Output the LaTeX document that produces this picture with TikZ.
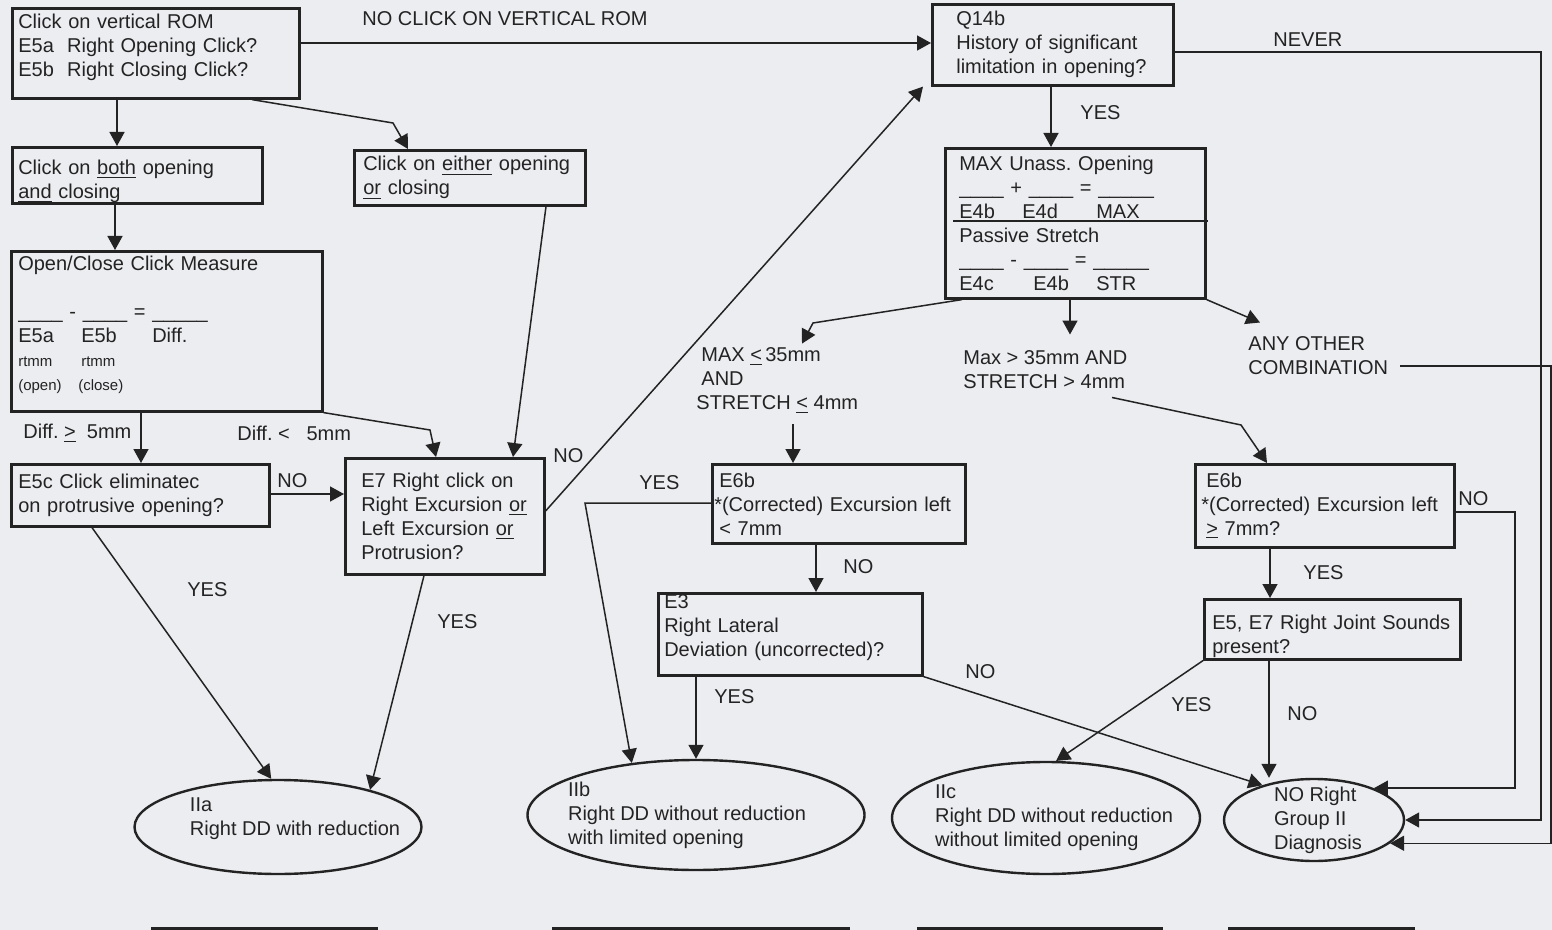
\documentclass[tikz,border=0pt]{standalone}
\usepackage{fontspec}
\setmainfont{Liberation Sans}
\usetikzlibrary{arrows.meta,shapes.geometric}
\definecolor{paper}{RGB}{236,237,241}
\definecolor{ink}{RGB}{35,35,35}

\begin{document}
\begin{tikzpicture}[
    x=0.5pt, y=-0.5pt,
    font=\fontsize{10}{12}\selectfont\frenchspacing,
    >={Triangle[length=7pt,width=7.5pt]},
    box/.style={draw=ink, line width=1.3pt, anchor=north west, align=left,
        inner ysep=0pt, text=ink},
    oval/.style={ellipse, draw=ink, line width=1.2pt, align=left,
        inner sep=-12pt, text=ink},
    lbl/.style={anchor=west, align=left, inner sep=0pt, text=ink},
    arr/.style={->, draw=ink, line width=0.75pt},
    bar/.style={draw=ink, line width=1.5pt},
]
\useasboundingbox (0,0) rectangle (1552,930);
\fill[paper] (0,0) rectangle (1552,930);

% Click branch (left)
\node[box, text width=137.5pt, inner xsep=3pt, minimum height=45pt, text depth=32pt] (top) at (11,7)
    {Click on vertical ROM\\E5a\ \ Right Opening Click?\\E5b\ \ Right Closing Click?};
\node[box, text width=119pt, inner xsep=3pt, minimum height=28pt, text height=13pt] (both) at (11,146)
    {Click on \underline{both} opening\\\underline{and} closing};
\node[box, text width=106.5pt, inner xsep=4.5pt, minimum height=27.5pt] (either) at (353,149)
    {Click on \underline{either} opening\\\underline{or} closing};
\node[box, text width=148.5pt, inner xsep=3.5pt, minimum height=80pt, text depth=68pt] (meas) at (10,250)
    {Open/Close Click Measure\\[12pt]
     \_\_\_\_ - \_\_\_\_ = \_\_\_\_\_\\
     \makebox[31.5pt][l]{E5a}\makebox[35.5pt][l]{E5b}Diff.\\
     {\fontsize{7.5}{12}\selectfont\makebox[31.5pt][l]{rtmm}rtmm}\\
     {\fontsize{7.5}{12}\selectfont\makebox[30pt][l]{(open)}(close)}};
\node[box, text width=122pt, inner xsep=3.5pt, minimum height=31pt] (e5c) at (10,463)
    {E5c Click eliminatec\\on protrusive opening?};
\node[box, text width=83.5pt, inner xsep=8pt, minimum height=58pt] (e7) at (344,457)
    {E7 Right click on\\Right Excursion \underline{or}\\Left Excursion \underline{or}\\Protrusion?};

% History / opening branch (right)
\node[box, text width=96.5pt, inner xsep=12pt, minimum height=40.5pt] (q14b) at (931,3)
    {Q14b\\History of significant\\limitation in opening?};
\node[box, text width=116pt, inner xsep=7pt, minimum height=75pt] (maxbox) at (944,147)
    {MAX Unass. Opening\\
     \_\_\_\_ + \_\_\_\_ = \_\_\_\_\_\\
     \makebox[31.5pt][l]{E4b}\makebox[37pt][l]{E4d}MAX\\
     Passive Stretch\\
     \_\_\_\_ - \_\_\_\_ = \_\_\_\_\_\\
     \makebox[37pt][l]{E4c}\makebox[31.5pt][l]{E4b}STR};
\draw[ink, line width=0.9pt] ([shift={(9,74)}]maxbox.north west) -- ([shift={(264,74)}]maxbox.north west);
\node[box, text width=124.5pt, inner xsep=1pt, minimum height=39.5pt] (e6bl) at (711,463)
    {\hspace*{2.5pt}E6b\\{*}(Corrected) Excursion left\\\hspace*{2.5pt}< 7mm};
\node[box, text width=126pt, inner xsep=3pt, minimum height=41pt, text depth=33pt] (e3) at (657,592)
    {E3\\Right Lateral\\Deviation (uncorrected)?};
\node[box, text width=123.5pt, inner xsep=3pt, minimum height=41.5pt] (e6br) at (1194,463)
    {\hspace*{2.5pt}E6b\\{*}(Corrected) Excursion left\\\hspace*{2.5pt}\underline{>} 7mm?};
\node[box, text width=120pt, inner xsep=4pt, minimum height=30pt, text height=14.3pt] (sounds) at (1203,598)
    {E5, E7 Right Joint Sounds\\present?};

% Diagnoses
\node[oval, minimum width=143.5pt, minimum height=47pt, text depth=10pt] (IIa) at (278,827)
    {\hspace*{17pt}IIa\\\hspace*{17pt}Right DD with reduction};
\node[oval, minimum width=168.5pt, minimum height=55pt] (IIb) at (696,815)
    {\hspace*{-9pt}IIb\\\hspace*{-9pt}Right DD without reduction\\\hspace*{-9pt}with limited opening};
\node[oval, minimum width=154pt, minimum height=56pt] (IIc) at (1046,818)
    {\hspace*{8pt}IIc\\\hspace*{8pt}Right DD without reduction\\\hspace*{8pt}without limited opening};
\node[oval, minimum width=90pt, minimum height=41pt] (nodx) at (1314,820)
    {\hspace*{4pt}NO Right\\\hspace*{4pt}Group II\\\hspace*{4pt}Diagnosis};

% Conditions and answers
\node[lbl] (nocl) at (362,19) {NO CLICK ON VERTICAL ROM};
\node[lbl] (never) at (1273,40) {NEVER};
\node[lbl] (yes1) at (1080,113) {YES};
\node[lbl] (c1) at (696,381)
    {\hspace*{2.5pt}MAX \underline{<}\,35mm\\\hspace*{2.5pt}AND\\STRETCH \underline{<} 4mm};
\node[lbl] (c2) at (963,370) {Max > 35mm AND\\STRETCH > 4mm};
\node[lbl] (ao) at (1248,356) {ANY OTHER\\COMBINATION};
\node[lbl] (dge) at (23,433) {Diff. \underline{>}\ \ 5mm};
\node[lbl] (dlt) at (237,433) {Diff. <\ \ \ 5mm};
\node[lbl] (no1) at (277,481) {NO};
\node[lbl] (no2) at (553,456) {NO};
\node[lbl] (yes2) at (639,483) {YES};
\node[lbl] (yes3) at (187,590) {YES};
\node[lbl] (yes4) at (437,622) {YES};
\node[lbl] (no3) at (843,567) {NO};
\node[lbl] (yes5) at (714,697) {YES};
\node[lbl] (no4) at (965,672) {NO};
\node[lbl] (yes6) at (1303,573) {YES};
\node[lbl] (no5) at (1458,499) {NO};
\node[lbl] (yes7) at (1171,705) {YES};
\node[lbl] (no6) at (1287,714) {NO};

% Connectors, left half
\draw[arr] (top.east |- 0,43) -- (q14b.west |- 0,43);
\draw[arr] (top.south -| 117,0) -- (both.north -| 117,0);
\draw[arr] (top.south -| 252,0) -- (393,123) -- (either.north -| 408,0);
\draw[arr] (both.south -| 115,0) -- (meas.north -| 115,0);
\draw[arr] (meas.south -| 141,0) -- (e5c.north -| 141,0);
\draw[arr] (meas.south east) -- (430,430) -- (e7.north -| 436,0);
\draw[arr] (either.south -| 546,0) -- (e7.north -| 513,0);
\draw[arr] (e5c.east |- 0,494) -- (e7.west |- 0,494);
\draw[arr] (e7.east |- 0,511) -- ([xshift=-4pt]q14b.south west);
\draw[arr] (e5c.south -| 92,0) -- (IIa.98);
\draw[arr] (e7.south -| 424,0) -- (IIa.22);

% Connectors, right half
\draw[arr] (q14b.south -| 1051,0) -- (maxbox.north -| 1051,0);
\draw[arr] (q14b.east |- 0,52) -- (1541,52) -- (nodx.east -| 1541,0) -- (nodx.east);
\draw[arr] (maxbox.south -| 962,0) -- (813,323) -- ([shift={(106,-4)}]c1.north west);
\draw[arr] (maxbox.south -| 1070,0) -- ([shift={(107,-16)}]c2.north west);
\draw[arr] (maxbox.south east) -- ([shift={(12,-14)}]ao.north west);
\draw[arr] ([shift={(97,10)}]c1.south west) -- (e6bl.north -| 793,0);
\draw[arr] ([shift={(149,8)}]c2.south west) -- (1241,425) -- (e6br.north -| 1267,0);
\draw[arr] ([shift={(152,10)}]ao.west) -- (1551,366) -- (nodx.343 -| 1551,0) -- (nodx.343);
\draw[arr] (e6bl.west |- 0,503) -- (585,503) -- (IIb.141);
\draw[arr] (e6bl.south -| 816,0) -- (e3.north -| 816,0);
\draw[arr] (e3.south -| IIb.north) -- (IIb.north);
\draw[arr] (e3.south east) -- (nodx.146);
\draw[arr] (e6br.south -| 1270,0) -- (sounds.north -| 1270,0);
\draw[arr] (e6br.east |- 0,512) -- (1515,512) -- (nodx.28 -| 1515,0) -- (nodx.28);
\draw[arr] (sounds.south west) -- (IIc.80);
\draw[arr] (sounds.south -| 1269,0) -- (nodx.north -| 1269,0);

% cut-off boxes along the bottom edge
\draw[bar] (151,928) -- (378,928);
\draw[bar] (552,928) -- (850,928);
\draw[bar] (917,928) -- (1163,928);
\draw[bar] (1228,928) -- (1415,928);
\end{tikzpicture}
\end{document}
